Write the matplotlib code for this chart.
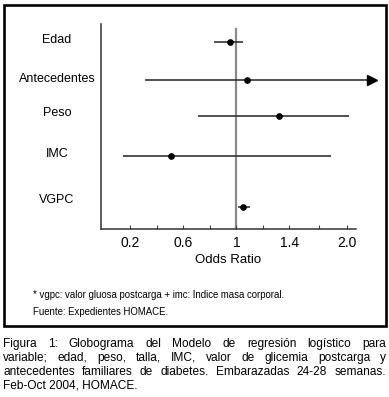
import matplotlib

matplotlib.use('agg')

import matplotlib.pyplot as plt
from matplotlib.patches import Rectangle
from matplotlib.transforms import blended_transform_factory

plt.rcParams['font.family'] = ['Liberation Sans', 'DejaVu Sans']

# data
variables = ['Edad', 'Antecedentes', 'Peso', 'IMC', 'VGPC']
odds = [0.95, 1.08, 1.32, 0.51, 1.05]
ci_low = [0.83, 0.31, 0.71, 0.15, 1.01]
ci_high = [1.05, 2.02, 1.85, 1.71, 1.10]
ci_open = [False, True, False, False, False]  # upper limit runs off the scale
tick_labels = ['0.2', '0.6', '1', '1.4', '2.0']

footnotes = ['* vgpc: valor gluosa postcarga + imc: Indice masa corporal.',
             'Fuente: Expedientes HOMACE.']
caption = ['Figura 1: Globograma del Modelo de regresión logístico para',
           'variable; edad, peso, talla, IMC, valor de glicemia postcarga y',
           'antecedentes familiares de diabetes. Embarazadas 24-28 semanas.',
           'Feb-Oct 2004, HOMACE.']

# layout
W, H = 389, 397
row_pos = [0, 1, 1.95, 3.0, 4.35]
label_pos = [-0.04, 0.97, 1.88, 2.95, 4.15]
tick_pos = [0.2, 0.6, 1.0, 1.4, 1.83]
minor_pos = [0.4, 0.8, 1.2, 1.62]

fig = plt.figure(figsize=(W / 100, H / 100), dpi=100)
fig.patch.set_facecolor('white')

ax = fig.add_axes([101 / W, (H - 229.3) / H, (355.7 - 101) / W, (229.3 - 24) / H])
ax.set_xlim(-0.018, 1.898)
ax.set_ylim(4.93, -0.474)
for s in ['top', 'right']:
    ax.spines[s].set_visible(False)
for s in ['left', 'bottom']:
    ax.spines[s].set_color('#333333')
    ax.spines[s].set_linewidth(1.1)

ax.set_yticks([])
ax.set_xticks(tick_pos)
ax.set_xticklabels(tick_labels)
ax.set_xticks(minor_pos, minor=True)
ax.tick_params(axis='x', which='both', direction='in', length=3, width=0.8,
               color='#444444', labelsize=10, pad=5)

ax.axvline(1.0, ymax=0.975, color='#8a8a8a', lw=1.6, zorder=1)

for i in range(len(variables)):
    ax.hlines(row_pos[i], ci_low[i], ci_high[i], color='#333333', lw=1.2,
              zorder=2, clip_on=False)
    ax.plot(odds[i], row_pos[i], marker='o', ms=3.8, color='black', zorder=3)
    if ci_open[i]:
        ax.plot(ci_high[i], row_pos[i], marker='>', ms=7, color='black',
                clip_on=False, zorder=3)

trans = blended_transform_factory(fig.transFigure, ax.transData)
for i, name in enumerate(variables):
    ax.text(57 / W, label_pos[i], name, transform=trans, ha='center',
            va='center', fontsize=9)

fig.text(228 / W, (H - 260) / H, 'Odds Ratio', ha='center', va='center',
         fontsize=9.5)

fig.text(33 / W, (H - 295) / H, footnotes[0], ha='left', va='center', fontsize=6.9)
fig.text(33 / W, (H - 312) / H, footnotes[1], ha='left', va='center', fontsize=6.9)

fig.patches.append(Rectangle((3.5 / W, (H - 325.5) / H), 382 / W, 320.5 / H,
                             transform=fig.transFigure, fill=False,
                             edgecolor='black', lw=1.9))

# justified caption under the box
renderer = fig.canvas.get_renderer()
x0, x1 = 3, 386
for k, line in enumerate(caption):
    y = (H - (344 + 14 * k)) / H
    words = line.split(' ')
    if k == len(caption) - 1:
        fig.text(x0 / W, y, line, ha='left', va='center', fontsize=8.6)
        continue
    texts = [fig.text(0, y, w, ha='left', va='center', fontsize=8.6) for w in words]
    widths = [t.get_window_extent(renderer).width for t in texts]
    gap = max((x1 - x0 - sum(widths)) / (len(words) - 1), 2.5)
    x = x0
    for t, wd in zip(texts, widths):
        t.set_x(x / W)
        x += wd + gap

fig.savefig('out.png', dpi=100)
